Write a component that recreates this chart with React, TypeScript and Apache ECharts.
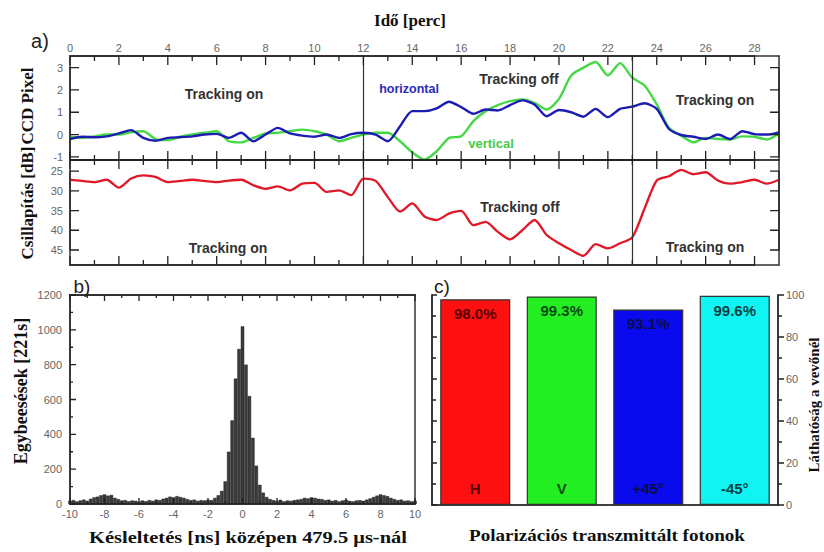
import React, { useEffect, useRef } from "react";
import * as echarts from "echarts";

// ---------- data ----------
const timeStep = 0.5; // minutes between samples (0 .. 29)
const horizontalPx = [
  -0.2, -0.1, -0.12, -0.08, 0.05, 0.2, -0.15, -0.28, -0.15, -0.12,
  -0.08, 0.0, 0.03, -0.15, 0.08, -0.3, 0.0, 0.3, 0.05, -0.05,
  -0.1, 0.0, -0.15, 0.02, 0.08, 0.0, -0.3, 0.37, 1.05, 1.05,
  1.17, 1.47, 1.23, 0.93, 1.12, 1.08, 1.32, 1.53, 1.35, 0.82,
  1.1, 1.0, 0.8, 1.15, 0.78, 1.15, 1.25, 1.4, 1.15, 0.25,
  -0.02, -0.1, -0.2, 0.0, -0.2, 0.15, 0.02, 0.0, 0.1,
];
const verticalPx = [
  -0.1, -0.15, -0.08, 0.0, 0.0, 0.1, 0.15, -0.2, -0.25, -0.1,
  0.0, 0.08, 0.15, -0.3, -0.35, -0.15, 0.05, 0.08, 0.15, 0.22,
  0.15, 0.0, -0.3, -0.15, 0.0, 0.08, 0.08, -0.3, -0.8, -1.12,
  -0.75, -0.15, -0.08, 0.6, 1.05, 1.32, 1.5, 1.57, 1.42, 1.12,
  1.6, 2.65, 3.0, 3.25, 2.65, 3.2, 2.55, 2.2, 1.35, 0.3,
  -0.05, -0.35, -0.15, -0.2, -0.22, -0.08, -0.1, -0.22, 0.05,
];
const attenuationDb = [
  27.2, 27.5, 27.8, 27.2, 29.2, 26.9, 26.1, 26.5, 27.8, 27.5,
  27.2, 27.5, 27.8, 27.4, 27.2, 28.6, 29.5, 28.9, 29.9, 28.2,
  28.0, 30.3, 29.9, 31.1, 26.9, 27.5, 31.6, 35.3, 33.2, 36.5,
  37.4, 35.8, 35.1, 38.7, 37.9, 40.4, 42.3, 40.0, 37.4, 41.2,
  43.3, 45.0, 46.5, 43.5, 44.6, 43.3, 41.8, 34.5, 27.4, 26.3,
  24.7, 25.8, 25.3, 27.4, 28.2, 27.8, 27.2, 28.2, 27.2,
];
const trackingSwitches = [12, 23];

const binStart = -10;
const binWidth = 0.2;
const coincidences = [
  18, 22, 15, 20, 25, 18, 30, 38, 42, 50,
  55, 48, 52, 35, 28, 20, 22, 15, 20, 18,
  14, 20, 16, 22, 18, 25, 22, 30, 35, 42,
  38, 45, 40, 35, 28, 22, 25, 18, 22, 20,
  24, 22, 35, 50, 75, 130, 300, 480, 720, 890,
  1020, 800, 620, 380, 220, 110, 65, 40, 28, 22,
  18, 24, 15, 20, 18, 22, 25, 28, 35, 32,
  38, 35, 30, 28, 22, 25, 18, 22, 15, 20,
  24, 18, 15, 20, 22, 18, 25, 32, 40, 48,
  55, 50, 45, 35, 28, 22, 25, 18, 20, 15,
  18,
];

const polarizations = ["H", "V", "+45°", "-45°"];
const visibility = [98.0, 99.3, 93.1, 99.6];
const barColors = ["#ff1010", "#22ee22", "#0a0aee", "#10f4f4"];
const barTextColors = ["#5a0000", "#0a4d12", "#0c0c48", "#0a3f44"];

// tick positions
const ccdTicks = [-1, 0, 1, 2, 3];
const dbTicks = [25, 30, 35, 40, 45];
const timeMajor = [0, 2, 4, 6, 8, 10, 12, 14, 16, 18, 20, 22, 24, 26, 28];
const timeMinor = [1, 3, 5, 7, 9, 11, 13, 15, 17, 19, 21, 23, 25, 27];
const delayMajor = [-10, -8, -6, -4, -2, 0, 2, 4, 6, 8, 10];
const delayMinor = [-9, -7, -5, -3, -1, 1, 3, 5, 7, 9];
const countMajor = [0, 200, 400, 600, 800, 1000, 1200];
const countMinor = [100, 300, 500, 700, 900, 1100];
const visMajor = [0, 20, 40, 60, 80, 100];
const visMinor = [10, 30, 50, 70, 90];

// ---------- layout & styles ----------
const GRIDS = [
  { left: 70, top: 56, width: 709, height: 104 },
  { left: 70, top: 160, width: 709, height: 105 },
  { left: 70, top: 295, width: 345, height: 209 },
  { left: 432, top: 295, width: 346, height: 210 },
];
const SANS = '"Liberation Sans", Arial, sans-serif';
const SERIF = '"Liberation Serif", "DejaVu Serif", serif';
const lineStyle = { color: "#333", width: 1.5 };
const labelStyle = { color: "#666", fontSize: 11, fontFamily: SANS };
const plainNumber = (v: number) => String(v);

function frameAxis(extra: any) {
  return {
    type: "value",
    axisLine: { show: true, onZero: false, lineStyle: { ...lineStyle } },
    axisTick: { show: false },
    axisLabel: { show: false },
    splitLine: { show: false },
    ...extra,
  };
}

// edges: 0 top, 1 bottom, 2 left, 3 right ; len > 0 points into the plot
const tickDefs = [
  { grid: 0, axis: "x", index: 0, groups: [[timeMajor, 9], [timeMinor, 5]], edges: [0, 1] },
  { grid: 0, axis: "y", index: 0, groups: [[ccdTicks, 9]], edges: [2, 3] },
  { grid: 1, axis: "x", index: 2, groups: [[timeMajor, 9], [timeMinor, 5]], edges: [0, 1] },
  { grid: 1, axis: "y", index: 2, groups: [[dbTicks, 9]], edges: [2, 3] },
  { grid: 2, axis: "x", index: 4, groups: [[delayMajor, 6], [delayMinor, 3]], edges: [0, 1] },
  { grid: 2, axis: "y", index: 4, groups: [[countMajor, 6], [countMinor, 3]], edges: [2] },
  { grid: 3, axis: "y", index: 6, groups: [[visMajor, 5], [visMinor, 4]], edges: [2] },
  { grid: 3, axis: "y", index: 6, groups: [[visMajor, -6], [visMinor, -4]], edges: [3] },
];

export default function App() {
  const ref = useRef<HTMLDivElement>(null);

  useEffect(() => {
    if (!ref.current) return;
    const chart = echarts.init(ref.current, undefined, { renderer: "svg" });

    const times = horizontalPx.map((_, i) => i * timeStep);
    const hData = times.map((t, i) => [t, horizontalPx[i]]);
    const vData = times.map((t, i) => [t, verticalPx[i]]);
    const rData = times.map((t, i) => [t, attenuationDb[i]]);
    const histData = coincidences.map((c, i) => [binStart + i * binWidth, c]);

    const switchLines = () => ({
      silent: true,
      symbol: "none",
      label: { show: false },
      lineStyle: { color: "#333", width: 1.2, type: "solid" },
      data: trackingSwitches.map((t) => ({ xAxis: t })),
    });

    const timeAxis = (gridIndex: number, position: string, labels: boolean) =>
      frameAxis({
        gridIndex,
        position,
        min: 0,
        max: 29,
        interval: 2,
        axisLabel: labels
          ? { show: true, margin: 3, showMaxLabel: false, ...labelStyle }
          : { show: false },
      });

    const txt = (text: string, x: number, y: number, font: string, fill: string, extra: any = {}) => ({
      type: "text",
      x,
      y,
      silent: true,
      ...extra,
      style: { text, font, fill, align: "center", verticalAlign: "middle" },
    });

    const texts: any[] = [
      txt("Idő [perc]", 410, 20, `bold 17px ${SERIF}`, "#111"),
      txt("a)", 40, 41, `20px ${SANS}`, "#222"),
      txt("b)", 82, 286, `19px ${SANS}`, "#222"),
      txt("c)", 442, 286, `19px ${SANS}`, "#222"),
      txt("CCD Pixel", 27, 106, `bold 17px ${SERIF}`, "#111", { rotation: Math.PI / 2 }),
      txt("Csillapítás [dB]", 27, 203, `bold 17px ${SERIF}`, "#111", { rotation: Math.PI / 2 }),
      txt("Egybeesések [221s]", 21, 391, `bold 18px ${SERIF}`, "#111", { rotation: Math.PI / 2 }),
      txt("Láthatóság a vevőnél", 814, 405, `bold 15px ${SERIF}`, "#111", { rotation: Math.PI / 2 }),
      txt("Késleltetés [ns] középen 479.5 μs-nál", 248, 538, `bold 16px ${SERIF}`, "#111", { scaleX: 1.28 }),
      txt("Polarizációs transzmittált fotonok", 607, 536, `bold 16px ${SERIF}`, "#111", { scaleX: 1.19 }),
      txt("Tracking on", 224, 94, `bold 14px ${SANS}`, "#333"),
      txt("horizontal", 409, 89, `bold 12.5px ${SANS}`, "#2a2ab8"),
      txt("Tracking off", 519, 79, `bold 14px ${SANS}`, "#333"),
      txt("vertical", 491, 143, `bold 13px ${SANS}`, "#45cc45"),
      txt("Tracking on", 715, 100, `bold 14px ${SANS}`, "#333"),
      txt("Tracking on", 228, 248, `bold 14px ${SANS}`, "#333"),
      txt("Tracking off", 520, 207, `bold 14px ${SANS}`, "#333"),
      txt("Tracking on", 705, 247, `bold 14px ${SANS}`, "#333"),
    ];

    const option: any = {
      animation: false,
      backgroundColor: "#fff",
      grid: GRIDS.map((g) => ({ ...g })),
      xAxis: [
        timeAxis(0, "top", true),
        timeAxis(0, "bottom", false),
        timeAxis(1, "top", false),
        timeAxis(1, "bottom", false),
        frameAxis({
          gridIndex: 2,
          position: "bottom",
          min: -10,
          max: 10,
          interval: 2,
          axisLabel: { show: true, margin: 4, ...labelStyle },
        }),
        frameAxis({ gridIndex: 2, position: "top", min: -10, max: 10, interval: 2 }),
        {
          gridIndex: 3,
          type: "category",
          position: "bottom",
          data: polarizations,
          z: 10,
          axisLine: { show: true, lineStyle: { ...lineStyle } },
          axisTick: { show: false },
          axisLabel: {
            show: true,
            inside: true,
            margin: 9,
            fontSize: 15,
            fontWeight: "bold",
            fontFamily: SANS,
            color: (_v: any, i: number) => barTextColors[i],
          },
          splitLine: { show: false },
        },
        {
          gridIndex: 3,
          type: "category",
          position: "top",
          data: polarizations,
          axisLine: { show: true, lineStyle: { ...lineStyle } },
          axisTick: { show: false },
          axisLabel: { show: false },
          splitLine: { show: false },
        },
      ],
      yAxis: [
        frameAxis({
          gridIndex: 0,
          position: "left",
          min: -1.14,
          max: 3.52,
          axisLabel: { show: true, margin: 7, customValues: ccdTicks, ...labelStyle },
        }),
        frameAxis({ gridIndex: 0, position: "right", min: -1.14, max: 3.52 }),
        frameAxis({
          gridIndex: 1,
          position: "left",
          inverse: true,
          min: 22.2,
          max: 48.8,
          axisLabel: { show: true, margin: 7, customValues: dbTicks, ...labelStyle },
        }),
        frameAxis({ gridIndex: 1, position: "right", inverse: true, min: 22.2, max: 48.8 }),
        frameAxis({
          gridIndex: 2,
          position: "left",
          min: 0,
          max: 1200,
          interval: 200,
          axisLabel: { show: true, margin: 8, formatter: plainNumber, ...labelStyle },
        }),
        frameAxis({ gridIndex: 2, position: "right", min: 0, max: 1200, interval: 200 }),
        frameAxis({
          gridIndex: 3,
          position: "right",
          min: 0,
          max: 100,
          interval: 20,
          axisLabel: { show: true, margin: 8, ...labelStyle },
        }),
        frameAxis({ gridIndex: 3, position: "left", min: 0, max: 100, interval: 20 }),
      ],
      series: [
        {
          name: "vertical",
          type: "line",
          xAxisIndex: 0,
          yAxisIndex: 0,
          data: vData,
          showSymbol: false,
          smooth: 0.25,
          lineStyle: { color: "#45d845", width: 2.4 },
          z: 2,
        },
        {
          name: "horizontal",
          type: "line",
          xAxisIndex: 0,
          yAxisIndex: 0,
          data: hData,
          showSymbol: false,
          smooth: 0.25,
          lineStyle: { color: "#1c1cb4", width: 2.4 },
          z: 3,
          markLine: switchLines(),
        },
        {
          name: "attenuation",
          type: "line",
          xAxisIndex: 2,
          yAxisIndex: 2,
          data: rData,
          showSymbol: false,
          smooth: 0.25,
          lineStyle: { color: "#e01828", width: 2.3 },
          markLine: switchLines(),
        },
        {
          name: "coincidences",
          type: "bar",
          xAxisIndex: 4,
          yAxisIndex: 4,
          data: histData,
          barWidth: 3.4,
          itemStyle: { color: "#3c3c3c", borderColor: "#111", borderWidth: 0.4 },
        },
        {
          name: "visibility",
          type: "bar",
          xAxisIndex: 6,
          yAxisIndex: 6,
          barCategoryGap: "19%",
          data: visibility.map((v, i) => ({
            value: v,
            itemStyle: { color: barColors[i] },
            label: { color: barTextColors[i] },
          })),
          itemStyle: { borderColor: "#333", borderWidth: 1.2 },
          label: {
            show: true,
            position: "insideTop",
            distance: 7,
            fontSize: 15,
            fontWeight: "bold",
            fontFamily: SANS,
            formatter: (p: any) => `${Number(p.value).toFixed(1)}%`,
          },
        },
      ],
      graphic: texts,
    };

    chart.setOption(option);

    // frame ticks: one zig-zag polyline per frame edge, positions from the chart's own axis scales
    try {
      const tickEls: any[] = [];
      tickDefs.forEach((d) => {
        const g = GRIDS[d.grid];
        const marks: { p: number; len: number }[] = [];
        d.groups.forEach(([vals, len]: any) => {
          (vals as number[]).forEach((v) => {
            const finder = d.axis === "x" ? { xAxisIndex: d.index } : { yAxisIndex: d.index };
            const p = Number(chart.convertToPixel(finder as any, v as any));
            if (isFinite(p)) marks.push({ p, len: len as number });
          });
        });
        marks.sort((a, b) => a.p - b.p);
        d.edges.forEach((e) => {
          const pts: number[][] = [];
          marks.forEach(({ p, len }) => {
            if (e === 0) { pts.push([p, g.top], [p, g.top + len], [p, g.top]); }
            else if (e === 1) { const b = g.top + g.height; pts.push([p, b], [p, b - len], [p, b]); }
            else if (e === 2) { pts.push([g.left, p], [g.left + len, p], [g.left, p]); }
            else { const r = g.left + g.width; pts.push([r, p], [r - len, p], [r, p]); }
          });
          tickEls.push({
            type: "polyline",
            silent: true,
            z: 20,
            shape: { points: pts },
            style: { stroke: "#222", lineWidth: 1.3, fill: null },
          });
        });
      });
      chart.setOption({ graphic: [...texts, ...tickEls] });
    } catch (err) {
      // keep the chart without frame ticks
    }

    return () => chart.dispose();
  }, []);

  return (
    <div
      ref={ref}
      style={{ position: "fixed", left: 0, top: 0, width: 824, height: 552, background: "#fff" }}
    />
  );
}
